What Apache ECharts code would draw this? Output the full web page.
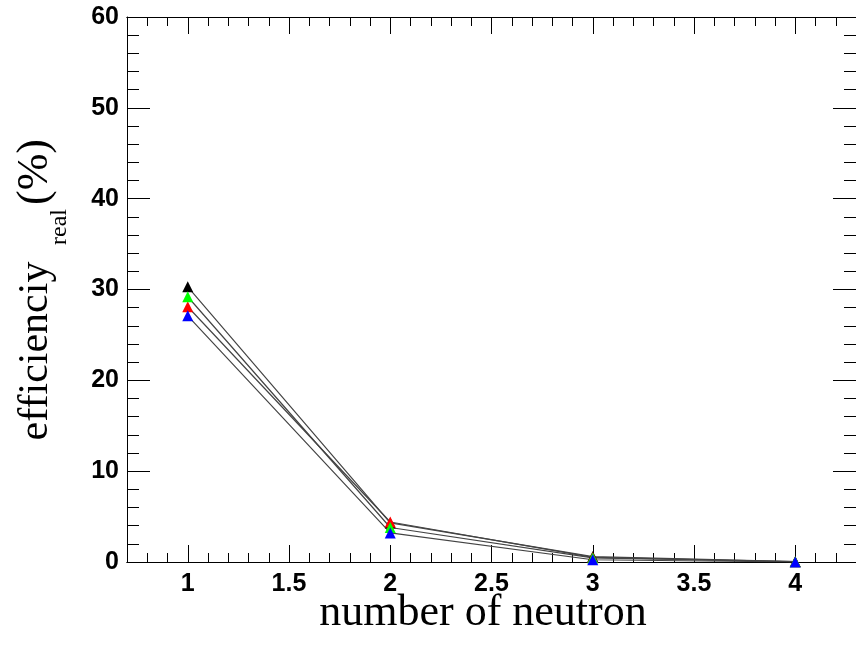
<!DOCTYPE html>
<html>
<head>
<meta charset="utf-8">
<script src="https://cdn.jsdelivr.net/npm/echarts@6/dist/echarts.min.js"></script>
<style>
  html, body { margin: 0; padding: 0; background: #fff; }
  #main { width: 856px; height: 651px; }
</style>
</head>
<body>
<div id="main"></div>
<script>
// number of neutron
var neutrons = [1, 2, 3, 4];
// efficiency (%) per curve
var effBlack = [30.3, 4.3, 0.6, 0.05];
var effRed = [28.1, 4.4, 0.5, 0.04];
var effGreen = [29.2, 3.8, 0.45, 0.03];
var effBlue = [27.1, 3.2, 0.25, 0.0];
// tick positions
var xMajorTicks = [1, 1.5, 2, 2.5, 3, 3.5, 4];
var xMinorTicks = [0.8, 0.9, 1.1, 1.2, 1.3, 1.4, 1.6, 1.7, 1.8, 1.9, 2.1, 2.2, 2.3, 2.4,
                   2.6, 2.7, 2.8, 2.9, 3.1, 3.2, 3.3, 3.4, 3.6, 3.7, 3.8, 3.9, 4.1, 4.2];

var chart = echarts.init(document.getElementById("main"));

function pairs(ys) {
  return neutrons.map(function (x, i) { return [x, ys[i]]; });
}

function xAx(pos, ticks, len, labels) {
  return {
    type: "value", position: pos, min: 0.7, max: 4.3,
    axisLine: { show: true, onZero: false, lineStyle: { color: "#000", width: 1 } },
    axisTick: { show: true, inside: true, length: len, customValues: ticks,
                lineStyle: { color: "#000", width: 1 } },
    axisLabel: labels ? {
      show: true, customValues: ticks, margin: 10,
      fontFamily: "Liberation Sans", fontWeight: "bold", fontSize: 25, color: "#000"
    } : { show: false },
    splitLine: { show: false }
  };
}

function yAx(pos, labels) {
  return {
    type: "value", position: pos, min: 0, max: 60, interval: 10,
    axisLine: { show: true, onZero: false, lineStyle: { color: "#000", width: 1 } },
    axisTick: { show: true, inside: true, length: 23, lineStyle: { color: "#000", width: 1 } },
    minorTick: { show: true, splitNumber: 5, length: 12, lineStyle: { color: "#000", width: 1 } },
    axisLabel: labels ? {
      show: true, margin: 8,
      fontFamily: "Liberation Sans", fontWeight: "bold", fontSize: 25, color: "#000"
    } : { show: false },
    splitLine: { show: false },
    minorSplitLine: { show: false }
  };
}

function ser(name, ys, color) {
  return {
    name: name, type: "line", xAxisIndex: 0, yAxisIndex: 0,
    data: pairs(ys),
    symbol: "triangle", symbolSize: 11,
    itemStyle: { color: color },
    lineStyle: { color: "#444", width: 1.2 },
    animation: false
  };
}

chart.setOption({
  animation: false,
  grid: { left: 127, right: -4, top: 17, bottom: 89 },
  xAxis: [
    xAx("bottom", xMajorTicks, 17, true),
    xAx("bottom", xMinorTicks, 9, false),
    xAx("top", xMajorTicks, 17, false),
    xAx("top", xMinorTicks, 9, false)
  ],
  yAxis: [yAx("left", true), yAx("right", false)],
  series: [
    ser("black", effBlack, "#000000"),
    ser("red", effRed, "#ff0000"),
    ser("green", effGreen, "#00ff00"),
    ser("blue", effBlue, "#0000ff")
  ],
  graphic: [
    { type: "text", x: 483, y: 613,
      style: { text: "number of neutron", fontFamily: "Liberation Serif", fontSize: 44,
               fill: "#000", align: "center", verticalAlign: "middle" } },
    { type: "text", x: 36, y: 351, rotation: Math.PI / 2,
      style: { text: "efficienciy", fontFamily: "Liberation Serif", fontSize: 42,
               fill: "#000", align: "center", verticalAlign: "middle" } },
    { type: "text", x: 60, y: 227, rotation: Math.PI / 2,
      style: { text: "real", fontFamily: "Liberation Serif", fontSize: 24,
               fill: "#000", align: "center", verticalAlign: "middle" } },
    { type: "text", x: 35, y: 172, rotation: Math.PI / 2,
      style: { text: "(%)", fontFamily: "Liberation Serif", fontSize: 44,
               fill: "#000", align: "center", verticalAlign: "middle" } }
  ]
});
</script>
</body>
</html>
